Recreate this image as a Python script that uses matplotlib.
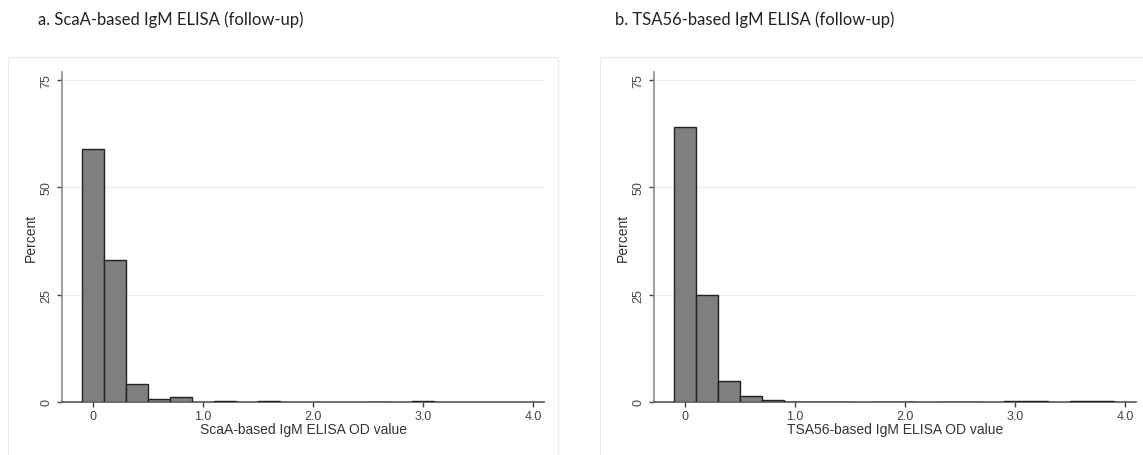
import matplotlib.pyplot as plt
from matplotlib.patches import Rectangle
import numpy as np

# histogram bins (left edges, width 0.2) and percentages
bin_left = [-0.1, 0.1, 0.3, 0.5, 0.7, 0.9, 1.1, 1.3, 1.5, 1.7,
            1.9, 2.1, 2.3, 2.5, 2.7, 2.9, 3.1, 3.3, 3.5, 3.7]
scaa_pct = [59, 33, 4.2, 0.8, 1.1, 0, 0.15, 0, 0.15, 0,
            0, 0, 0, 0.1, 0, 0.15, 0, 0, 0, 0]
tsa56_pct = [64, 25, 5, 1.5, 0.5, 0.1, 0.1, 0.1, 0, 0.1,
             0.1, 0, 0.1, 0.1, 0, 0.3, 0.3, 0, 0.3, 0.3]

titles = ["a. ScaA-based IgM ELISA (follow-up)",
          "b. TSA56-based IgM ELISA (follow-up)"]
xlabels = ["ScaA-based IgM ELISA OD value",
           "TSA56-based IgM ELISA OD value"]
xticks = [0, 1, 2, 3, 4]
xticklabels = ["0", "1.0", "2.0", "3.0", "4.0"]
yticks = [0, 25, 50, 75]

plt.rcParams['font.family'] = ['Liberation Sans', 'DejaVu Sans']

W, H = 1143, 456
fig = plt.figure(figsize=(W / 100, H / 100), dpi=100)

# light panel frames (Stata graph region)
fig.patches.append(Rectangle((8 / W, -0.1), 550 / W, (456 - 58) / H + 0.1,
                             transform=fig.transFigure, fill=False,
                             edgecolor="#e6eef0", linewidth=1))
fig.patches.append(Rectangle((600 / W, -0.1), 560 / W, (456 - 58) / H + 0.1,
                             transform=fig.transFigure, fill=False,
                             edgecolor="#e6eef0", linewidth=1))

panels = [(62, scaa_pct, 38), (654, tsa56_pct, 615)]
for i, (ax_left, pct, title_x) in enumerate(panels):
    ax = fig.add_axes([ax_left / W, (456 - 403) / H, 482 / W, (403 - 73) / H])
    ax.set_xlim(-0.282, 4.1)
    ax.set_ylim(0, 76.9)

    pct = np.array(pct, dtype=float)
    keep = pct > 0
    ax.bar(np.array(bin_left)[keep], pct[keep], width=0.2, align="edge",
           color="#7f7f7f", edgecolor="#222222", linewidth=1.0, zorder=3)

    for y in yticks[1:]:
        ax.axhline(y, color="#e6f0f1", linewidth=1, zorder=1)

    for side in ["top", "right"]:
        ax.spines[side].set_visible(False)
    ax.spines["left"].set_color("#8c8c8c")
    ax.spines["bottom"].set_color("#555555")
    ax.spines["left"].set_linewidth(1.2)
    ax.spines["bottom"].set_linewidth(1.2)

    ax.set_xticks(xticks)
    ax.set_xticklabels(xticklabels)
    ax.set_yticks(yticks)
    ax.set_yticklabels([str(v) for v in yticks], rotation=90, va="center")
    ax.tick_params(axis="both", labelsize=9, colors="#444444",
                   length=3.5, width=1, pad=2)
    ax.tick_params(axis="y", pad=3.5)

    ax.set_xlabel(xlabels[i], fontsize=10, color="#333333", labelpad=0)
    ax.set_ylabel("Percent", fontsize=10, color="#333333", labelpad=2)

    fig.text(title_x / W, 1 - 20 / H, titles[i], fontsize=12,
             family=["Lato", "DejaVu Sans"], color="#222222",
             ha="left", va="center")

fig.savefig("out.png", dpi=100, facecolor="white")
